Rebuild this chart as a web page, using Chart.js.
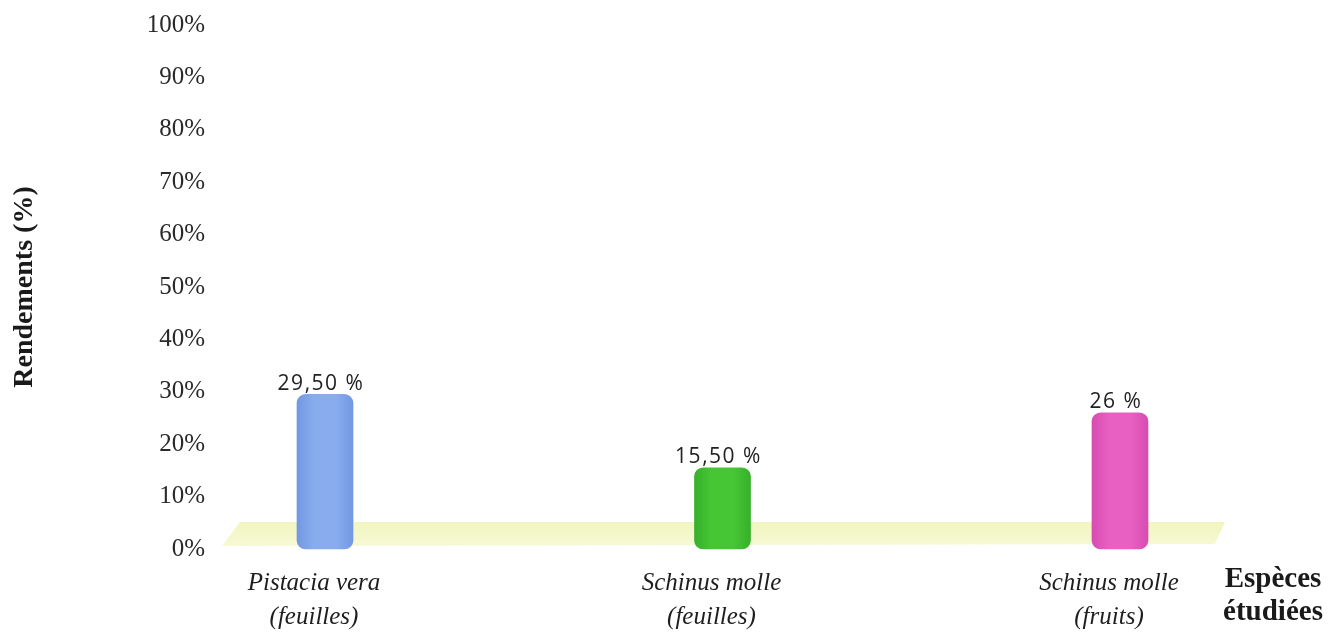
<!DOCTYPE html>
<html>
<head>
<meta charset="utf-8">
<script src="https://cdn.jsdelivr.net/npm/chart.js@4/dist/chart.umd.min.js"></script>
<style>
  html, body { margin: 0; padding: 0; background: #ffffff; }
  #wrap { position: relative; width: 1344px; height: 634px; }
</style>
</head>
<body>
<div id="wrap"><canvas id="chart"></canvas></div>
<script>
var categories = [
  ["Pistacia vera", "(feuilles)"],
  ["Schinus molle", "(feuilles)"],
  ["Schinus molle", "(fruits)"]
];
var rendements = [29.5, 15.5, 26];
var valueLabels = ["29,50 %", "15,50 %", "26 %"];
var yTicks = [0, 10, 20, 30, 40, 50, 60, 70, 80, 90, 100];
var barLight = ["#88aced", "#46c535", "#e760c2"];
var barDark = ["#7398e2", "#37b02a", "#d84cb2"];

(function () {
  if (typeof Chart === "undefined") {
    return;
  }

  var serif = "'Liberation Serif', 'DejaVu Serif', serif";
  var barWidth = 56;

  // cylinder shading: dark edges, light middle
  function cylinderFill(context) {
    var chart = context.chart;
    var i = context.dataIndex;
    if (!chart.scales.x || i === undefined) {
      return barLight[0];
    }
    var cx = chart.scales.x.getPixelForValue(i);
    if (!isFinite(cx)) {
      return barLight[i];
    }
    var g = chart.ctx.createLinearGradient(cx - barWidth / 2, 0, cx + barWidth / 2, 0);
    g.addColorStop(0, barDark[i]);
    g.addColorStop(0.3, barLight[i]);
    g.addColorStop(0.7, barLight[i]);
    g.addColorStop(1, barDark[i]);
    return g;
  }

  // light yellow floor under the bars (3d look of the original)
  var floorPlugin = {
    id: "floor",
    beforeDatasetsDraw: function (chart) {
      var ctx = chart.ctx;
      var y0 = chart.scales.y.getPixelForValue(0);
      var x = chart.scales.x;
      var left = x.getPixelForValue(0) - 103;
      var right = x.getPixelForValue(2) + 105;
      ctx.save();
      var grad = ctx.createLinearGradient(0, y0 - 28, 0, y0 - 3);
      grad.addColorStop(0, "rgba(238,244,180,0.85)");
      grad.addColorStop(1, "rgba(246,248,208,0.9)");
      ctx.fillStyle = grad;
      ctx.beginPath();
      ctx.moveTo(left + 18, y0 - 27);
      ctx.lineTo(right, y0 - 27);
      ctx.lineTo(right - 10, y0 - 5);
      ctx.lineTo(left, y0 - 3);
      ctx.closePath();
      ctx.fill();
      ctx.restore();
    }
  };

  var valueLabelPlugin = {
    id: "valueLabels",
    afterDatasetsDraw: function (chart) {
      var ctx = chart.ctx;
      var meta = chart.getDatasetMeta(0);
      ctx.save();
      ctx.font = "21px 'Open Sans', 'DejaVu Sans', sans-serif";
      ctx.letterSpacing = "1.5px";
      ctx.fillStyle = "#222222";
      ctx.textAlign = "center";
      ctx.textBaseline = "bottom";
      meta.data.forEach(function (bar, i) {
        ctx.fillText(valueLabels[i], bar.x - 4, bar.y);
      });
      ctx.restore();
    }
  };

  var xTitlePlugin = {
    id: "xTitle",
    afterDraw: function (chart) {
      var ctx = chart.ctx;
      ctx.save();
      ctx.font = "bold 29px " + serif;
      ctx.fillStyle = "#1a1a1a";
      ctx.textAlign = "center";
      ctx.textBaseline = "middle";
      ctx.fillText("Espèces", 1273, 580);
      ctx.fillText("étudiées", 1273, 613);
      ctx.restore();
    }
  };

  new Chart(document.getElementById("chart"), {
    type: "bar",
    data: {
      labels: categories,
      datasets: [
        {
          data: rendements,
          backgroundColor: cylinderFill,
          borderWidth: 0,
          borderSkipped: false,
          borderRadius: { topLeft: 9, topRight: 9, bottomLeft: 9, bottomRight: 9 },
          barThickness: barWidth,
          clip: false
        }
      ]
    },
    options: {
      responsive: true,
      maintainAspectRatio: false,
      animation: false,
      layout: { padding: { top: 25, right: 224, bottom: 0, left: 0 } },
      plugins: {
        legend: { display: false },
        tooltip: { enabled: false }
      },
      scales: {
        x: {
          offset: false,
          grid: { display: false, drawTicks: false },
          border: { display: false },
          ticks: {
            color: "#1e1e1e",
            padding: 18,
            labelOffset: -11,
            maxRotation: 0,
            autoSkip: false,
            font: { family: serif, size: 25, style: "italic", lineHeight: 1.35 }
          },
          afterFit: function (scale) {
            scale.height = 85;
          }
        },
        y: {
          min: 0,
          max: 100,
          afterBuildTicks: function (scale) {
            scale.ticks = yTicks.map(function (v) { return { value: v }; });
          },
          // ticks stay hidden, their length only pushes the labels to the left
          grid: { display: false, drawTicks: true, tickLength: 112 },
          border: { display: false },
          ticks: {
            color: "#2a2a2a",
            padding: 8,
            font: { family: serif, size: 25 },
            callback: function (v) { return v + "%"; }
          },
          title: {
            display: true,
            text: "Rendements (%)",
            color: "#1a1a1a",
            padding: { top: 8, bottom: 0 },
            font: { family: serif, size: 28, weight: "bold" }
          },
          afterFit: function (scale) {
            scale.width = 325;
          }
        }
      }
    },
    plugins: [floorPlugin, valueLabelPlugin, xTitlePlugin]
  });
})();
</script>
</body>
</html>
